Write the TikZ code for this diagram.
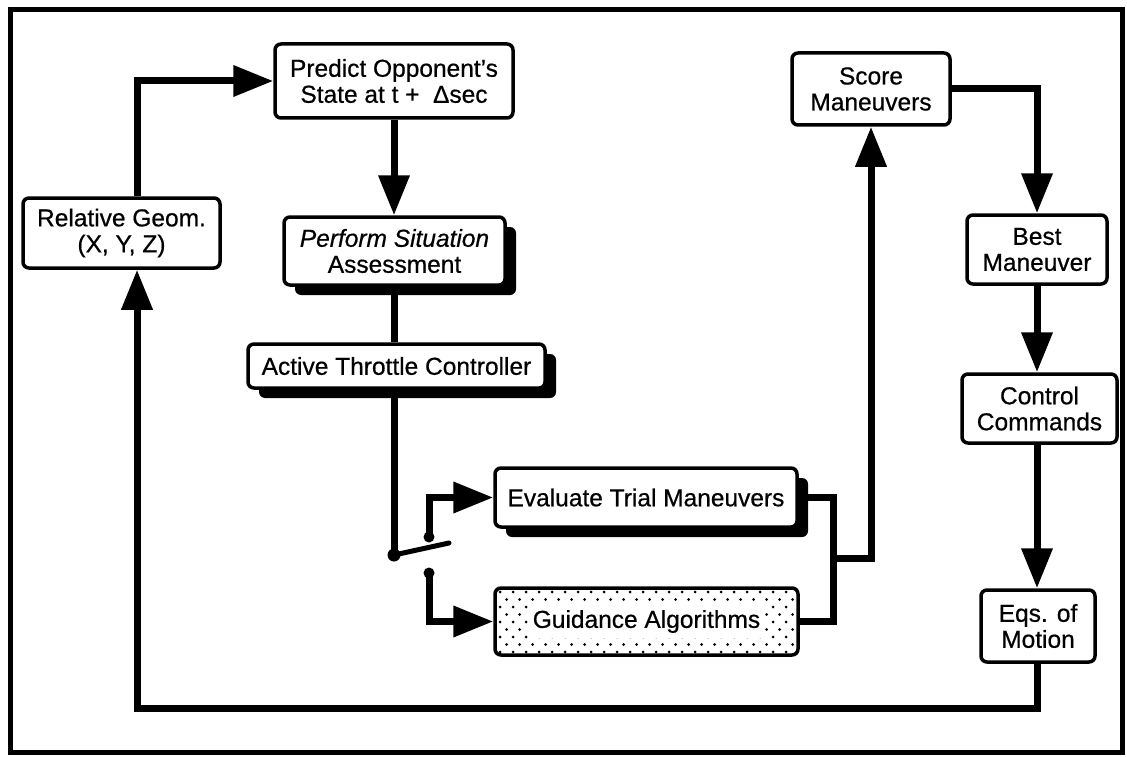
\documentclass[tikz,border=0pt]{standalone}
\usepackage{fontspec}
\setmainfont{Liberation Sans}[FakeBold=0.6]
\usetikzlibrary{arrows.meta,shadows}
\newcommand\fs{\fontsize{24.5}{26}\selectfont}
\tikzset{
  box/.style={draw, line width=3.5pt, rounded corners=6pt, fill=white, align=center, inner sep=0pt, font=\fs},
  shad/.style={drop shadow={shadow xshift=11pt, shadow yshift=-10pt, fill=black, opacity=1}},
  conn/.style={line width=7pt},
  arr/.style={conn, -{Triangle[length=40pt,width=30pt]}},
  lever/.style={line width=5pt, line cap=round},
  frame/.style={line width=5pt},
}
\begin{document}
\begin{tikzpicture}[x=1pt,y=-1pt]
\useasboundingbox (0,0) rectangle (1127,757);
\draw[frame] (10,10) rectangle (1122,752);

% nodes
\node[box, minimum width=197pt, minimum height=70pt] (rel) at (121.5,233) {Relative Geom.\\(X, Y, Z)};
\node[box, minimum width=238pt, minimum height=74pt] (pred) at (394,81) {Predict Opponent's\\State at t +\hspace{0.55em}Δsec};
\node[box, shad, minimum width=221pt, minimum height=68pt] (perf) at (394.5,251) {\itshape Perform Situation\\Assessment};
\node[box, shad, minimum width=297pt, minimum height=44pt] (act) at (396.5,366) {Active Throttle Controller};
\node[box, shad, minimum width=302pt, minimum height=59pt] (eval) at (646,497.5) {Evaluate Trial Maneuvers};

% dotted fill of guidance box
\begin{scope}
  \clip[rounded corners=6pt] (495,588) rectangle (798,655);
  \foreach \r in {0,...,8} {
    \pgfmathsetmacro{\yy}{592+7.5*\r}
    \pgfmathsetmacro{\off}{mod(\r,2)*6.5}
    \foreach \c in {0,...,23} {
      \fill (500+\off+13*\c,\yy) circle (1.5pt);
    }
  }
\end{scope}
\node[draw, line width=3.5pt, rounded corners=6pt, inner sep=0pt, minimum width=303pt, minimum height=67pt, font=\fs] (guid) at (646.5,621.5)
  {\setlength{\fboxsep}{5pt}\colorbox{white}{Guidance Algorithms}};

\node[box, minimum width=158pt, minimum height=72pt] (score) at (871,89) {Score\\Maneuvers};
\node[box, minimum width=140pt, minimum height=69pt] (best) at (1037,249.5) {Best\\Maneuver};
\node[box, minimum width=155pt, minimum height=69pt] (ctrl) at (1039.5,408.5) {Control\\Commands};
\node[box, minimum width=114pt, minimum height=72pt] (eqs) at (1038,626) {Eqs. of\\Motion};

% helper coordinates
\coordinate (fb) at (137,708);
\coordinate (pv) at (394,555);
\coordinate (lv) at (449,543);
\coordinate (cu) at (429,537);
\coordinate (cl) at (429,573);
\coordinate (jr) at (833,558);

% connectors
\draw[arr] (rel.north -| fb) |- (pred.west);
\draw[arr] (pred.south) -- (pred.south |- perf.north);
\draw[conn] (perf.south) -- (perf.south |- act.north);
\draw[conn] (pv |- act.south) -- (pv);
\draw[lever] (pv) -- (lv);
\fill (pv) circle (6.5pt);
\fill (cu) circle (5.5pt);
\fill (cl) circle (5.5pt);
\draw[arr] (cu) |- (eval.west);
\draw[arr] (cl) |- (guid.west);
\draw[conn] (eval.east) -| (jr) |- (guid.east);
\draw[arr] (jr) -| (score.south);
\draw[arr] (score.east) -| (best.north);
\draw[arr] (best.south) -- (best.south |- ctrl.north);
\draw[arr] (ctrl.south -| best.south) -- (best.south |- eqs.north);
\draw[arr] (eqs.south -| best.south) |- (fb) -- (rel.south -| fb);
\end{tikzpicture}
\end{document}
